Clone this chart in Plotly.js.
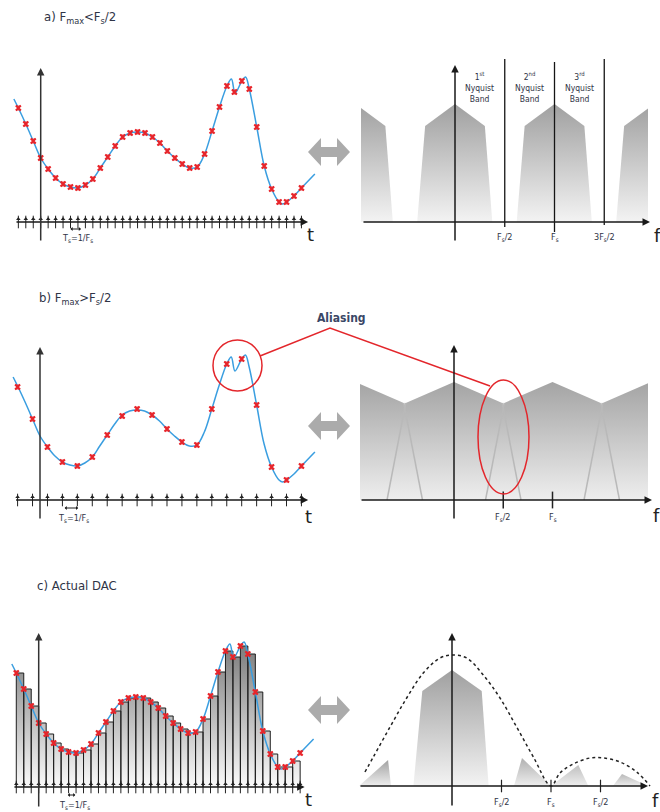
<!DOCTYPE html>
<html><head><meta charset="utf-8">
<script src="https://cdn.plot.ly/plotly-3.0.1.min.js"></script>
<style>html,body{margin:0;padding:0;background:#fff}</style>
</head><body><div id="chart" style="width:660px;height:812px"></div>
<script>
// ---------------- data ----------------
const sampleN = [-3,-2,-1,0,1,2,3,4,5,6,7,8,9,10,11,12,13,14,15,16,17,18,19,20,21,22,23,24,25,26,27,28,29,30,31,32,33,34,35];
const sampleV = [114,98,81,64,53,44,38,35,34,37,43,54,65,76,85,89,90,89,85,79,71,64,58,54,55,68,91,115,136,130,141,133,95,56,33,20,20,26,34];
const curveN = [-3.6,-3,-2,-1,0,1,2,3,4,5,6,7,8,9,10,11,12,13,14,15,16,17,18,19,20,21,22,23,24,25,25.6,26.1,27,27.5,28,29,30,31,32,32.5,33,34,35,36.8];
const curveV = [123,114,98,81,64,53,44,38,35,34,37,43,54,65,76,85,89,90,89,85,79,71,64,58,54,55,68,91,115,136,143,129,141,145,133,95,56,33,20,18,20,26,34,48];
const bSampleN = [-3,-1,1,3,5,7,9,11,13,15,17,19,21,23,25,27,29,31,33,35];
const bSampleV = [113,81,53,38,34,43,65,84,91,85,71,58,55,91,136,141,95,33,20,34];

const bandCenters = [-1,0,1,2];
const aTrapF = [-0.38,-0.30,0,0.30,0.375];
const aTrapH = [0,96,118,96,0];
const bTrapF = [-0.68,-0.49,0,0.49,0.68];
const bTrapH = [0,97,118,97,0];
const cBaseF = [-0.39,-0.30,0,0.30,0.37];
const cBaseH = [0,95,116,95,0];
const cImgLeftF = [-0.94,-0.646,-0.616];
const cImgLeftH = [0,26,0];
const cImgFsF = [0.626,0.707,1.0,1.276,1.377];
const cImgFsH = [0,28,0,21,0];
const cImg2F = [1.626,1.717,1.98];
const cImg2H = [0,12,0];
const sincF = [-0.879,-0.795,-0.626,-0.458,-0.29,-0.121,0,0.148,0.316,0.485,0.653,0.822,1.0,1.09,1.225,1.394,1.529,1.697,1.865,2.0];
const sincH = [14,29,59,88,113,128,131,128,111,88,59,29,0,13,22,28,28,24,14,0];

const aFreqTicks = [0.5,1,1.5];
const aFreqLabels = ['F<sub>s</sub>/2','F<sub>s</sub>','3F<sub>s</sub>/2'];
const bFreqTicks = [0.5,1];
const bFreqLabels = ['F<sub>s</sub>/2','F<sub>s</sub>'];
const cFreqTicks = [0.5,1,1.5];
const cFreqLabels = ['F<sub>s</sub>/2','F<sub>s</sub>','F<sub>s</sub>/2'];
const nyqPos = [0.25,0.75,1.25];
const nyqLabels = ['1<sup>st</sup><br>Nyquist<br>Band','2<sup>nd</sup><br>Nyquist<br>Band','3<sup>rd</sup><br>Nyquist<br>Band'];

// ---------------- helpers ----------------
const W=660,H=812;
const FONT='Liberation Sans Narrow, DejaVu Sans Condensed, Arial Narrow, sans-serif';
const TXT='#2f3446';
function xax(a,b,p0,u,anchor){return {domain:[a/W,b/W],range:[(a-p0)/u,(b-p0)/u],visible:false,fixedrange:true,anchor:anchor};}
function yax(t,b,p0,u,anchor){return {domain:[1-b/H,1-t/H],range:[(p0-b)/u,(p0-t)/u],visible:false,fixedrange:true,anchor:anchor};}
const grayScale=[[0,'#f3f3f3'],[1,'#a0a0a0']];
const traces=[];
function curve(xa,ya){
  traces.push({x:curveN,y:curveV,xaxis:xa,yaxis:ya,mode:'lines',line:{color:'#3a9ee0',width:1.5,shape:'spline',smoothing:1},hoverinfo:'skip'});
}
function marks(xa,ya,xs,ys){
  traces.push({x:xs,y:ys,xaxis:xa,yaxis:ya,mode:'markers',marker:{symbol:'x-thin-open',size:5,color:'#e8252b',line:{width:2,color:'#e8252b'}},hoverinfo:'skip'});
  traces.push({x:xs,y:ys,xaxis:xa,yaxis:ya,mode:'markers',marker:{symbol:'hourglass',size:5,color:'rgba(232,37,43,0.8)',line:{width:0}},hoverinfo:'skip'});
}
function impulses(xa,ya,xs){
  traces.push({x:xs,y:xs.map(()=>0),xaxis:xa,yaxis:ya,mode:'markers',marker:{symbol:'line-ns-open',size:9,color:'#222',line:{color:'#222',width:1}},hoverinfo:'skip'});
  traces.push({x:xs,y:xs.map(()=>3),xaxis:xa,yaxis:ya,mode:'markers',marker:{symbol:'triangle-up',size:4,color:'#222',line:{width:0}},hoverinfo:'skip'});
}
function poly(xa,ya,xs,ys,scale){
  traces.push({x:xs,y:ys,xaxis:xa,yaxis:ya,mode:'lines',fill:'toself',line:{width:0,color:'rgba(0,0,0,0)'},
    fillgradient:{type:'vertical',colorscale:scale||grayScale},hoverinfo:'skip'});
}

// ---------------- panel a ----------------
impulses('x','y',sampleN);
curve('x','y');
marks('x','y',sampleN,sampleV);
bandCenters.forEach(c=>poly('x2','y2',aTrapF.map(f=>f+c),aTrapH));

// ---------------- panel b ----------------
impulses('x3','y3',bSampleN);
curve('x3','y3');
marks('x3','y3',bSampleN,bSampleV);
bandCenters.forEach(c=>poly('x4','y4',bTrapF.map(f=>f+c),bTrapH,[[0,'#eeeeee'],[1,'#a4a4a4']]));
bandCenters.forEach(c=>{
  traces.push({x:[bTrapF[0]+c,bTrapF[1]+c,null,bTrapF[3]+c,bTrapF[4]+c],y:[bTrapH[0],bTrapH[1],null,bTrapH[3],bTrapH[4]],
    xaxis:'x4',yaxis:'y4',mode:'lines',line:{color:'#b9b9b9',width:1.5},hoverinfo:'skip'});
});
traces.push({x:bFreqTicks,y:bFreqTicks.map(()=>0),xaxis:'x4',yaxis:'y4',mode:'markers',marker:{symbol:'line-ns-open',size:12,color:'#222',line:{color:'#222',width:1.5}},hoverinfo:'skip'});

// ---------------- panel c ----------------
traces.push({x:sampleN,y:sampleV,xaxis:'x5',yaxis:'y5',mode:'lines',line:{shape:'hv',width:0,color:'rgba(0,0,0,0)'},fill:'tozeroy',
  fillgradient:{type:'vertical',colorscale:[[0,'#fafafa'],[1,'#7d7d7d']]},hoverinfo:'skip'});
// zero-order-hold bar outlines built from the samples
const holdX=[],holdY=[];
for(let i=0;i<sampleN.length-1;i++){
  holdX.push(sampleN[i],sampleN[i],sampleN[i+1],sampleN[i+1],null);
  holdY.push(0,sampleV[i],sampleV[i],0,null);
}
traces.push({x:holdX,y:holdY,xaxis:'x5',yaxis:'y5',mode:'lines',line:{color:'#1e1e1e',width:1},hoverinfo:'skip'});
impulses('x5','y5',sampleN);
curve('x5','y5');
marks('x5','y5',sampleN,sampleV);
poly('x6','y6',cBaseF,cBaseH);
poly('x6','y6',cImgLeftF,cImgLeftH,[[0,'#eeeeee'],[1,'#a2a2a2']]);
poly('x6','y6',cImgFsF,cImgFsH,[[0,'#eeeeee'],[1,'#b0b0b0']]);
poly('x6','y6',cImg2F,cImg2H,[[0,'#eeeeee'],[1,'#b8b8b8']]);
traces.push({x:sincF,y:sincH,xaxis:'x6',yaxis:'y6',mode:'lines',line:{color:'#222',width:1.5,dash:'dot',shape:'spline'},hoverinfo:'skip'});
traces.push({x:cFreqTicks,y:cFreqTicks.map(()=>0),xaxis:'x6',yaxis:'y6',mode:'markers',marker:{symbol:'line-ns-open',size:9,color:'#222',line:{color:'#222',width:1.2}},hoverinfo:'skip'});

// ---------------- annotations ----------------
const ann=[];
function pa(px,py,text,size,opts){ann.push(Object.assign({xref:'paper',yref:'paper',x:px/W,y:1-py/H,text:text,showarrow:false,
  font:{size:size,color:TXT,family:FONT},xanchor:'center',yanchor:'middle'},opts||{}));}
function arr(xr,yr,x0,y0,x1,y1,opts){ann.push(Object.assign({xref:xr,yref:yr,axref:xr,ayref:yr,x:x1,y:y1,ax:x0,ay:y0,text:'',
  showarrow:true,arrowhead:2,arrowsize:1,arrowwidth:1.5,arrowcolor:'#1a1a1a'},opts||{}));}
function lab(xr,yr,xs,labels,ys){xs.forEach((f,i)=>ann.push({xref:xr,yref:yr,x:f,y:0,yshift:ys,text:labels[i],showarrow:false,
  font:{size:9,color:TXT,family:FONT},xanchor:'center',yanchor:'middle'}));}

// titles
pa(42,17,'a) F<sub>max</sub>&lt;F<sub>s</sub>/2',13,{xanchor:'left'});
pa(37,298,'b) F<sub>max</sub>&gt;F<sub>s</sub>/2',13,{xanchor:'left'});
pa(35,585,'c) Actual DAC',13,{xanchor:'left'});
pa(341,318,'<b>Aliasing</b>',12,{font:{size:12,color:'#3a4766',family:'DejaVu Sans Condensed, sans-serif'}});

// axes arrows (time panels)
arr('x','y',-3.45,0,35.9,0); arr('x','y',0,-20,0,154,{arrowcolor:'#333'});
arr('x3','y3',-3.4,0,35.9,0); arr('x3','y3',0,-20,0,153,{arrowcolor:'#333'});
arr('x5','y5',-3.45,0,35.6,0); arr('x5','y5',0,-21,0,154,{arrowcolor:'#333'});
// axes arrows (frequency panels)
arr('x2','y2',-0.935,0,1.96,0); arr('x2','y2',0,-20,0,157);
arr('x4','y4',-0.954,0,2.01,0); arr('x4','y4',0,-20,0,155);
arr('x6','y6',-0.94,0,1.98,0); arr('x6','y6',0,-21,0,153);
// Ts period markers
arr('x','y',3.8,-7,5.4,-7,{arrowside:'end+start',arrowhead:1,arrowsize:0.7,arrowwidth:1});
arr('x3','y3',3.1,-8,5.1,-8,{arrowside:'end+start',arrowhead:1,arrowsize:0.7,arrowwidth:1});
arr('x5','y5',3.7,-8,4.9,-8,{arrowside:'end+start',arrowhead:1,arrowsize:0.7,arrowwidth:1});
pa(77,238,'T<sub>s</sub>=1/F<sub>s</sub>',9);
pa(73,518,'T<sub>s</sub>=1/F<sub>s</sub>',9);
pa(74,805,'T<sub>s</sub>=1/F<sub>s</sub>',9);
// t / f
const tf={size:18,color:'#222',family:'DejaVu Sans, sans-serif'};
pa(310,235,'t',18,{font:tf});
pa(308,516,'t',18,{font:tf});
pa(308,799,'t',18,{font:tf});
pa(657,236,'f',18,{font:tf});
pa(656,515,'f',18,{font:tf});
pa(655,800,'f',18,{font:tf});
// freq labels
lab('x2','y2',aFreqTicks,aFreqLabels,-15);
lab('x4','y4',bFreqTicks,bFreqLabels,-17);
lab('x6','y6',cFreqTicks,cFreqLabels,-16);
nyqPos.forEach((f,i)=>ann.push({xref:'x2',yref:'y2',x:f,y:135,text:nyqLabels[i],showarrow:false,
  font:{size:8.5,color:TXT,family:FONT},xanchor:'center',yanchor:'middle'}));

// ---------------- shapes ----------------
const shapes=[];
function P(x,y){return (x/W).toFixed(5)+','+(1-y/H).toFixed(5);}
function dblArrow(cx,cy){
  const pts=[[cx-21,cy],[cx-8,cy-14],[cx-8,cy-5],[cx+8,cy-5],[cx+8,cy-14],[cx+21,cy],[cx+8,cy+14],[cx+8,cy+5],[cx-8,cy+5],[cx-8,cy+14]];
  shapes.push({type:'path',xref:'paper',yref:'paper',path:'M'+pts.map(p=>P(p[0],p[1])).join(' L')+' Z',fillcolor:'#ababab',line:{width:0}});
}
dblArrow(329,152); dblArrow(329,426); dblArrow(329,710);
// nyquist separators
[[0.5,-5,163],[1,-10,160],[1.5,-3,163]].forEach(v=>shapes.push({type:'line',xref:'x2',yref:'y2',x0:v[0],x1:v[0],y0:v[1],y1:v[2],line:{color:'#151515',width:1.3}}));
// aliasing highlights
shapes.push({type:'circle',xref:'paper',yref:'paper',x0:213/W,x1:262/W,y0:1-391/H,y1:1-340/H,line:{color:'#e3262b',width:1.5}});
shapes.push({type:'circle',xref:'paper',yref:'paper',x0:478/W,x1:529/W,y0:1-494/H,y1:1-380/H,line:{color:'#e3262b',width:1.5}});
shapes.push({type:'path',xref:'paper',yref:'paper',path:'M'+P(260,356)+' L'+P(330,328)+' L'+P(490,386),line:{color:'#e3262b',width:1.4}});

const layout={
  width:W,height:H,margin:{l:0,r:0,t:0,b:0},showlegend:false,
  paper_bgcolor:'#fff',plot_bgcolor:'rgba(0,0,0,0)',
  font:{family:FONT},
  xaxis:xax(6,324,40.7,7.45,'y'),   yaxis:yax(58,248,222,1,'x'),
  xaxis2:xax(361,648,455,99.5,'y2'),yaxis2:yax(50,248,222,1,'x2'),
  xaxis3:xax(6,324,40,7.47,'y3'),   yaxis3:yax(338,528,500,1,'x3'),
  xaxis4:xax(360,648,454,98.5,'y4'),yaxis4:yax(330,528,500,1,'x4'),
  xaxis5:xax(6,324,38.7,7.47,'y5'), yaxis5:yax(620,810,787,1,'x5'),
  xaxis6:xax(359,654,452,99,'y6'),  yaxis6:yax(620,810,786,1,'x6'),
  annotations:ann,shapes:shapes
};
Plotly.newPlot('chart',traces,layout,{staticPlot:true,displayModeBar:false});
</script></body></html>
